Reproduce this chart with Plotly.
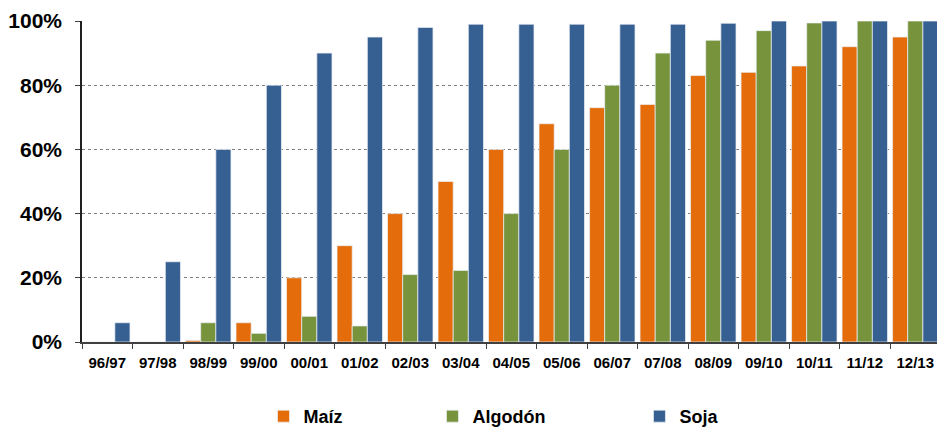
import plotly.graph_objects as go

categories = ["96/97", "97/98", "98/99", "99/00", "00/01", "01/02", "02/03", "03/04", "04/05",
              "05/06", "06/07", "07/08", "08/09", "09/10", "10/11", "11/12", "12/13"]
maiz = [0, 0, 0.5, 6, 20, 30, 40, 50, 60, 68, 73, 74, 83, 84, 86, 92, 95]
algodon = [0, 0, 6, 2.7, 8, 5, 21, 22.3, 40, 60, 80, 90, 94, 97, 99.4, 100, 100]
soja = [6, 25, 60, 80, 90, 95, 98, 99, 99, 99, 99, 99, 99.3, 100, 100, 100, 100]
y_ticks = [0, 20, 40, 60, 80, 100]
y_tick_labels = ["0%", "20%", "40%", "60%", "80%", "100%"]

FONT = "Liberation Sans, Arial, sans-serif"
edge = dict(color="rgba(235,240,245,0.9)", width=0.8)

fig = go.Figure()
fig.add_trace(go.Bar(name="Maíz", x=categories, y=maiz, marker=dict(color="#E46C0A", line=edge), legend="legend"))
fig.add_trace(go.Bar(name="Algodón", x=categories, y=algodon, marker=dict(color="#77933C", line=edge), legend="legend2"))
fig.add_trace(go.Bar(name="Soja", x=categories, y=soja, marker=dict(color="#376092", line=edge), legend="legend3"))

leg_common = dict(orientation="h", yref="container", yanchor="middle", y=0.027, xanchor="left",
                  font=dict(family=FONT, size=18, color="#000", weight="bold"),
                  bgcolor="rgba(0,0,0,0)")

fig.update_layout(
    width=937, height=428,
    margin=dict(l=82, r=0, t=21, b=86),
    paper_bgcolor="white", plot_bgcolor="white",
    showlegend=True,
    barmode="group", bargap=0.1, bargroupgap=0,
    legend=dict(x=0.2123, **leg_common),
    legend2=dict(x=0.4099, **leg_common),
    legend3=dict(x=0.652, **leg_common),
    xaxis=dict(
        range=[-0.5, 16.43],
        tickson="boundaries", ticks="outside", ticklen=5, tickcolor="#404040",
        ticklabelstandoff=6,
        showline=True, linecolor="#404040", linewidth=1.5,
        showgrid=False,
        tickfont=dict(family=FONT, size=15, color="#000", weight="bold"),
    ),
    yaxis=dict(
        range=[0, 100], tickvals=y_ticks, ticktext=y_tick_labels,
        ticks="outside", ticklen=5, tickcolor="#404040", ticklabelstandoff=9,
        showline=True, linecolor="#202020", linewidth=1.5,
        showgrid=True, gridcolor="#7f7f7f", griddash="dot", gridwidth=1,
        zeroline=False,
        tickfont=dict(family=FONT, size=21, color="#000", weight="bold"),
    ),
)

fig.write_html("out.html", config={"displayModeBar": False},
               post_script="document.body.style.margin='0';")
